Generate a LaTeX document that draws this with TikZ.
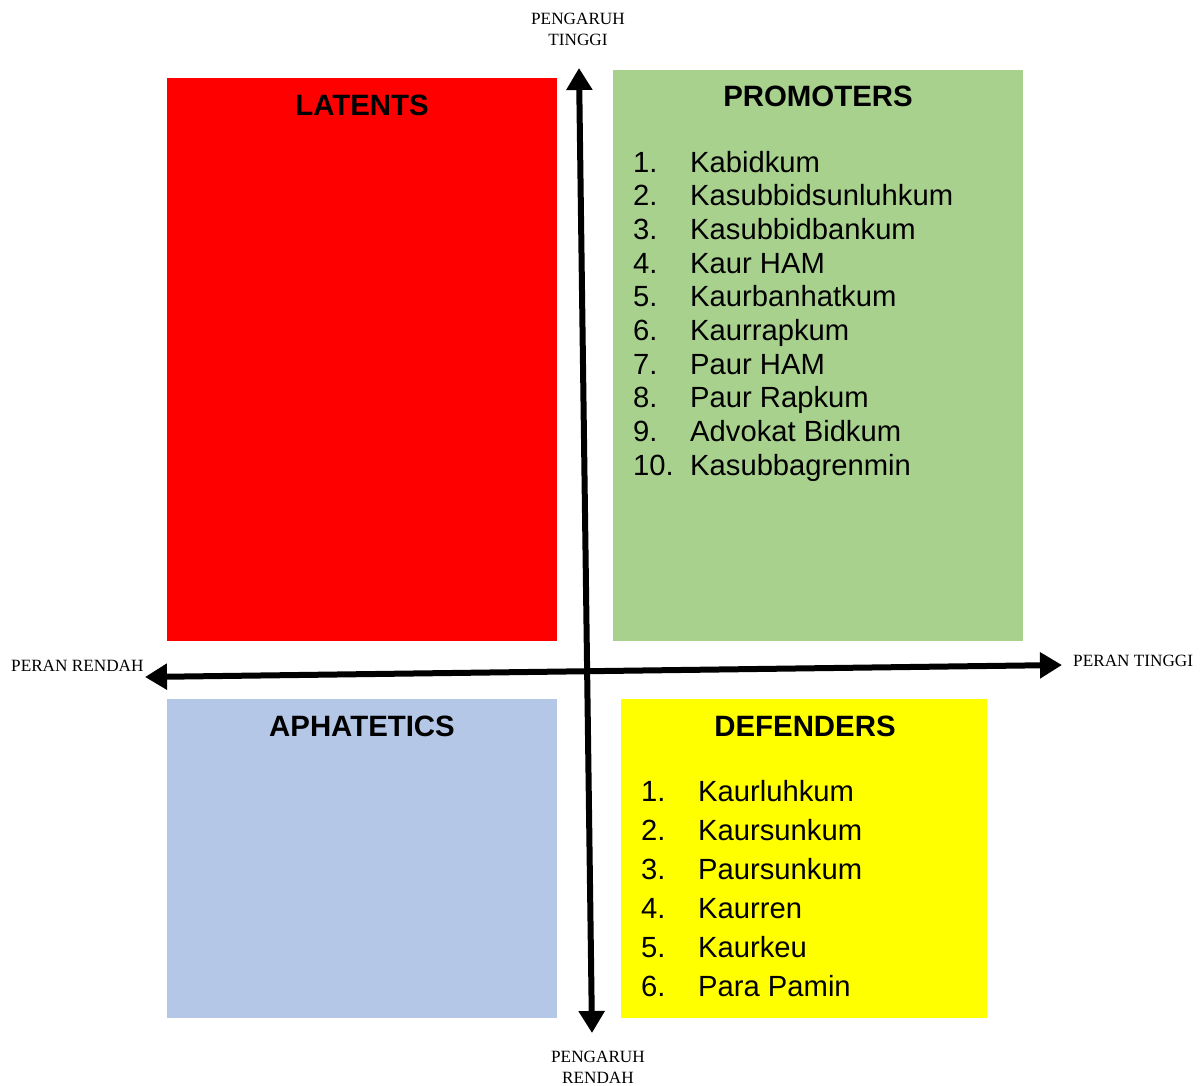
\documentclass[tikz,border=0pt]{standalone}
\usepackage{fontspec}
\setmainfont{Liberation Serif}
\newfontfamily\arialf{Liberation Sans}
\usetikzlibrary{arrows.meta}
\definecolor{cred}{HTML}{FF0000}
\definecolor{cgreen}{HTML}{A9D18E}
\definecolor{cblue}{HTML}{B4C7E7}
\definecolor{cyellow}{HTML}{FFFF00}
\tikzset{
  quad/.style={draw=none,inner sep=0pt,anchor=north west},
  ttl/.style={font=\arialf\bfseries\fontsize{29.4}{34}\selectfont,anchor=base,inner sep=0pt},
  itm/.style={font=\arialf\fontsize{29.2}{34}\selectfont,anchor=base west,inner sep=0pt},
  axlbl/.style={font=\fontsize{17.2}{20}\selectfont,anchor=base,inner sep=0pt},
  axis/.style={line width=6pt,{Triangle[length=22pt,width=25pt]}-{Triangle[length=22pt,width=25pt]},black}
}
\begin{document}
\begin{tikzpicture}[x=1pt,y=-1pt]
\useasboundingbox (0,0) rectangle (1204,1085);
% quadrants
\node[quad,fill=cred,minimum width=390pt,minimum height=563pt] (lat) at (167,78) {};
\node[quad,fill=cgreen,minimum width=410pt,minimum height=571pt] (pro) at (613,70) {};
\node[quad,fill=cblue,minimum width=390pt,minimum height=319pt] (aph) at (167,699) {};
\node[quad,fill=cyellow,minimum width=366pt,minimum height=319pt] (def) at (621,699) {};
% titles
\node[ttl] (tlat) at (362,115) {LATENTS};
\node[ttl] (tpro) at (818,106) {PROMOTERS};
\node[ttl] (taph) at (362,736) {APHATETICS};
\node[ttl] (tdef) at (805,736) {DEFENDERS};
% promoters list
\foreach \n/\t [count=\i from 0] in {1./Kabidkum,2./Kasubbidsunluhkum,3./Kasubbidbankum,4./Kaur HAM,5./Kaurbanhatkum,6./Kaurrapkum,7./Paur HAM,8./Paur Rapkum,9./Advokat Bidkum,10./Kasubbagrenmin}{
  \node[itm] (pn\i) at (633,172+33.7*\i) {\n};
  \node[itm] (pt\i) at (690,172+33.7*\i) {\t};
}
% defenders list
\foreach \n/\t [count=\i from 0] in {1./Kaurluhkum,2./Kaursunkum,3./Paursunkum,4./Kaurren,5./Kaurkeu,6./Para Pamin}{
  \node[itm] (dn\i) at (641,801+39*\i) {\n};
  \node[itm] (dt\i) at (698,801+39*\i) {\t};
}
% axes
\coordinate (vbot) at (592,1033);
\coordinate (vtop) at (579,68);
\coordinate (hleft) at (145,677);
\coordinate (hright) at (1062,665);
\draw[axis] (vbot) -- (vtop);
\draw[axis] (hleft) -- (hright);
% axis labels
\node[axlbl] (ht1) at (578,24) {PENGARUH};
\node[axlbl] (ht2) at (578,45) {TINGGI};
\node[axlbl] (hr1) at (598,1062) {PENGARUH};
\node[axlbl] (hr2) at (598,1083) {RENDAH};
\node[axlbl,anchor=base west] (pr) at (11,671) {PERAN RENDAH};
\node[axlbl,anchor=base west] (pt) at (1073,666) {PERAN TINGGI};
\end{tikzpicture}
\end{document}
